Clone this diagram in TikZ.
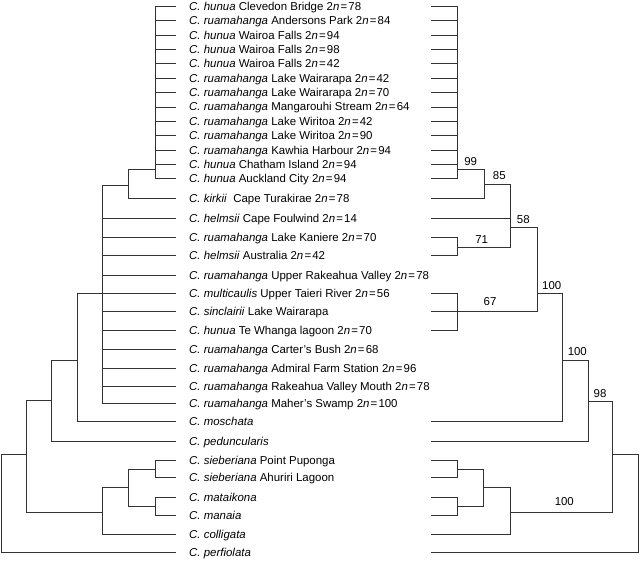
\documentclass[tikz,border=0pt]{standalone}
\usepackage{fontspec}
\setmainfont{Liberation Sans}
\newcommand\twon[1]{2\textit{n}\kern0.1em=\kern0.1em#1}
\begin{document}
\begin{tikzpicture}[x=1pt,y=-1pt,
  br/.style={draw=black!80, line width=0.75pt},
  lab/.style={anchor=base west, inner sep=0pt, font=\fontsize{11.45}{13}\selectfont},
  bs/.style={inner sep=0pt, font=\fontsize{11.45}{13}\selectfont}]
\useasboundingbox (0,0) rectangle (640,560);
\foreach \i/\y/\txt in {
 1/6.3/{\textit{C. hunua} Clevedon Bridge \twon{78}},
 2/20.7/{\textit{C. ruamahanga} Andersons Park \twon{84}},
 3/35.0/{\textit{C. hunua} Wairoa Falls \twon{94}},
 4/49.4/{\textit{C. hunua} Wairoa Falls \twon{98}},
 5/63.8/{\textit{C. hunua} Wairoa Falls \twon{42}},
 6/78.2/{\textit{C. ruamahanga} Lake Wairarapa \twon{42}},
 7/92.5/{\textit{C. ruamahanga} Lake Wairarapa \twon{70}},
 8/106.9/{\textit{C. ruamahanga} Mangarouhi Stream \twon{64}},
 9/121.3/{\textit{C. ruamahanga} Lake Wiritoa \twon{42}},
 10/135.6/{\textit{C. ruamahanga} Lake Wiritoa \twon{90}},
 11/150.0/{\textit{C. ruamahanga} Kawhia Harbour \twon{94}},
 12/164.4/{\textit{C. hunua} Chatham Island \twon{94}},
 13/178.7/{\textit{C. hunua} Auckland City \twon{94}},
 14/198/{\textit{C. kirkii}\ \ Cape Turakirae \twon{78}},
 15/218.5/{\textit{C. helmsii} Cape Foulwind \twon{14}},
 16/237/{\textit{C. ruamahanga} Lake Kaniere \twon{70}},
 17/255.5/{\textit{C. helmsii} Australia \twon{42}},
 18/275.3/{\textit{C. ruamahanga} Upper Rakeahua Valley \twon{78}},
 19/293.3/{\textit{C. multicaulis} Upper Taieri River \twon{56}},
 20/311.5/{\textit{C. sinclairii} Lake Wairarapa},
 21/330.5/{\textit{C. hunua} Te Whanga lagoon \twon{70}},
 22/349.3/{\textit{C. ruamahanga} Carter's Bush \twon{68}},
 23/368/{\textit{C. ruamahanga} Admiral Farm Station \twon{96}},
 24/386.7/{\textit{C. ruamahanga} Rakeahua Valley Mouth \twon{78}},
 25/403.5/{\textit{C. ruamahanga} Maher's Swamp \twon{100}},
 26/421.7/{\textit{C. moschata}},
 27/441/{\textit{C. peduncularis}},
 28/460/{\textit{C. sieberiana} Point Puponga},
 29/477.7/{\textit{C. sieberiana} Ahuriri Lagoon},
 30/497.5/{\textit{C. mataikona}},
 31/515.7/{\textit{C. manaia}},
 32/534.3/{\textit{C. colligata}},
 33/552.3/{\textit{C. perfiolata}}}{
  \coordinate (e\i) at (176,\y);
  \coordinate (f\i) at (431,\y);
  \node[lab] (t\i) at (189,{\y+4}) {\txt};
}
% left tree
\coordinate (A) at (155,169.5);
\coordinate (AK) at (128,185);
\coordinate (P) at (102,293.3);
\coordinate (M) at (77,360);
\coordinate (PD) at (51,400);
\coordinate (S1) at (155,469);
\coordinate (S2) at (155,506.7);
\coordinate (S12) at (128,487.3);
\coordinate (B) at (102,512.3);
\coordinate (R1) at (26,454.3);
\coordinate (RT) at (1,454.3);
\foreach \i in {1,...,13} \draw[br] (A) |- (e\i);
\draw[br] (AK) |- (A);
\draw[br] (AK) |- (e14);
\draw[br] (P) |- (AK);
\foreach \i in {15,...,25} \draw[br] (P) |- (e\i);
\draw[br] (M) |- (P);
\draw[br] (M) |- (e26);
\draw[br] (PD) |- (M);
\draw[br] (PD) |- (e27);
\draw[br] (S1) |- (e28);
\draw[br] (S1) |- (e29);
\draw[br] (S2) |- (e30);
\draw[br] (S2) |- (e31);
\draw[br] (S12) |- (S1);
\draw[br] (S12) |- (S2);
\draw[br] (B) |- (S12);
\draw[br] (B) |- (e32);
\draw[br] (R1) |- (PD);
\draw[br] (R1) |- (B);
\draw[br] (RT) |- (R1);
\draw[br] (RT) |- (e33);
% right tree
\coordinate (rA) at (457,169.5);
\coordinate (rAK) at (484,184.3);
\coordinate (r71) at (457,247.3);
\coordinate (r58) at (510,227.3);
\coordinate (r67) at (457,311.5);
\coordinate (r100a) at (537,293.3);
\coordinate (r100b) at (562.7,360.3);
\coordinate (r98) at (588.3,401);
\coordinate (rs1) at (457,469);
\coordinate (rs2) at (457,506.7);
\coordinate (rs12) at (483.3,487.3);
\coordinate (r100c) at (510,512.3);
\coordinate (rR1) at (612.7,454.3);
\coordinate (rRT) at (638.5,454.3);
\foreach \i in {1,...,13} \draw[br] (rA) |- (f\i);
\draw[br] (rAK) |- (rA);
\draw[br] (rAK) |- (f14);
\draw[br] (r71) |- (f16);
\draw[br] (r71) |- (f17);
\draw[br] (r58) |- (rAK);
\draw[br] (r58) |- (f15);
\draw[br] (r58) |- (r71);
\draw[br] (r67) |- (f19);
\draw[br] (r67) |- (f20);
\draw[br] (r67) |- (f21);
\draw[br] (r100a) |- (r58);
\draw[br] (r100a) |- (r67);
\draw[br] (r100b) |- (r100a);
\draw[br] (r100b) |- (f26);
\draw[br] (r98) |- (r100b);
\draw[br] (r98) |- (f27);
\draw[br] (rs1) |- (f28);
\draw[br] (rs1) |- (f29);
\draw[br] (rs2) |- (f30);
\draw[br] (rs2) |- (f31);
\draw[br] (rs12) |- (rs1);
\draw[br] (rs12) |- (rs2);
\draw[br] (r100c) |- (rs12);
\draw[br] (r100c) |- (f32);
\draw[br] (rR1) |- (r98);
\draw[br] (rR1) |- (r100c);
\draw[br] (rRT) |- (rR1);
\draw[br] (rRT) |- (f33);
% support values
\node[bs] (b99) at (470.7,161.7) {99};
\node[bs] (b85) at (499.3,176) {85};
\node[bs] (b58) at (523.3,219.3) {58};
\node[bs] (b71) at (481.7,239.3) {71};
\node[bs] (b67) at (490,302) {67};
\node[bs] (b100a) at (551.7,286) {100};
\node[bs] (b100b) at (577.3,351.7) {100};
\node[bs] (b98) at (600,393.3) {98};
\node[bs] (b100c) at (564.3,501.7) {100};
\end{tikzpicture}
\end{document}
